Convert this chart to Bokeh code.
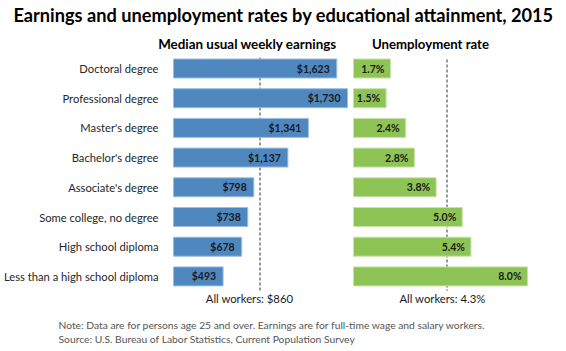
from bokeh.plotting import figure
from bokeh.models import Range1d, Label, ColumnDataSource
from bokeh.core.properties import value
from bokeh.embed import file_html
from bokeh.resources import INLINE

categories = ["Doctoral degree", "Professional degree", "Master's degree", "Bachelor's degree",
              "Associate's degree", "Some college, no degree", "High school diploma",
              "Less than a high school diploma"]
earnings = [1623, 1730, 1341, 1137, 798, 738, 678, 493]
unemployment = [1.7, 1.5, 2.4, 2.8, 3.8, 5.0, 5.4, 8.0]
earn_labels = ["$1,623", "$1,730", "$1,341", "$1,137", "$798", "$738", "$678", "$493"]
unemp_labels = ["1.7%", "1.5%", "2.4%", "2.8%", "3.8%", "5.0%", "5.4%", "8.0%"]
all_workers_earn = 860
all_workers_unemp = 4.3

W, H = 566, 351
FONT = "Lato"

# pixel geometry helpers (scale definitions)
e_px = 0.1006   # px per dollar
e0 = 173        # px of $0
u_px = 21.75    # px per percent
u0 = 353        # px of 0%
y0 = 68         # px of first category center (from top)
dy = 29.7       # px between categories

p = figure(width=W, height=H, output_backend="svg", toolbar_location=None,
           x_range=Range1d(-e0 / e_px, (W - e0) / e_px),
           y_range=Range1d((H - y0) / dy, -y0 / dy),
           min_border=0, min_border_left=0, min_border_right=0,
           min_border_top=0, min_border_bottom=0)
p.extra_x_ranges = {"u": Range1d(-u0 / u_px, (W - u0) / u_px)}
p.xaxis.visible = False
p.yaxis.visible = False
p.grid.visible = False
p.outline_line_color = None
p.background_fill_color = "white"
p.border_fill_color = "white"

ys = list(range(len(categories)))
src = ColumnDataSource(dict(y=ys, cat=categories, e=earnings, u=unemployment,
                            el=earn_labels, ul=unemp_labels))

# reference lines (behind bars)
p.segment(x0=[all_workers_earn], x1=[all_workers_earn], y0=[-0.37], y1=[7.48],
          line_color="#777777", line_width=1.5, line_dash="3 2")
p.segment(x0=[all_workers_unemp], x1=[all_workers_unemp], y0=[-0.3], y1=[7.48],
          line_color="#777777", line_width=1.5, line_dash="3 2", x_range_name="u")

p.hbar(y="y", left=0, right="e", height=0.64, source=src,
       fill_color="#4F87BF", line_color="#9CBEE3", line_width=1)
p.hbar(y="y", left=0, right="u", height=0.64, source=src, x_range_name="u",
       fill_color="#8DC455", line_color="#C8E3A8", line_width=1)

# value labels
p.text(x="e", y="y", text="el", source=src, text_align="right", text_baseline="middle",
       x_offset=-7, text_font=value(FONT), text_font_style="bold",
       text_font_size="10.5px", text_color="#1a1a1a")
p.text(x="u", y="y", text="ul", source=src, text_align="right", text_baseline="middle",
       x_offset=-6, text_font=value(FONT), text_font_style="bold",
       text_font_size="10.5px", text_color="#1a1a1a", x_range_name="u")

# category labels
p.text(x=0, y="y", text="cat", source=src, text_align="right", text_baseline="middle",
       x_offset=-15, text_font=value(FONT), text_font_size="11.2px", text_color="#262626")

def lab(x, y, t, size, bold=False, color="#000000", align="left"):
    p.add_layout(Label(x=x, y=H - y, x_units="screen", y_units="screen", text=t,
                       text_font=FONT, text_font_size=size,
                       text_font_style="bold" if bold else "normal",
                       text_color=color, text_align=align, text_baseline="middle"))

lab(W / 2, 14, "Earnings and unemployment rates by educational attainment, 2015", "18.2px", True, align="center")
lab(247, 43, "Median usual weekly earnings", "13.4px", True, align="center")
lab(430, 43, "Unemployment rate", "13.2px", True, align="center")
lab(249, 298, "All workers: $860", "11.3px", False, "#1a1a1a", align="center")
lab(442, 298, "All workers: 4.3%", "11.3px", False, "#1a1a1a", align="center")
lab(58, 324, "Note: Data are for persons age 25 and over. Earnings are for full-time wage and salary workers.", "10.3px", False, "#555555")
lab(58, 338, "Source: U.S. Bureau of Labor Statistics, Current Population Survey", "10.3px", False, "#555555")

open("out.html", "w").write(file_html(p, INLINE))
